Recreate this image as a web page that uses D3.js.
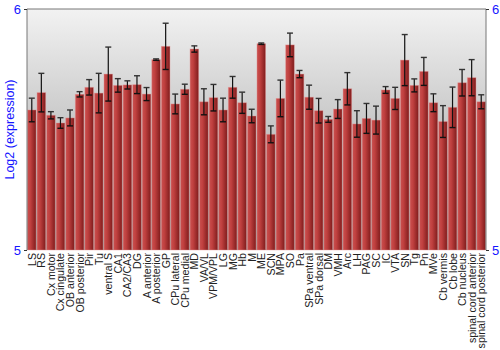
<!DOCTYPE html>
<html>
<head>
<meta charset="utf-8">
<script src="https://cdn.jsdelivr.net/npm/d3@7"></script>
<style>
  body { margin: 0; background: #fff; }
  text { font-family: "Liberation Sans", Arial, sans-serif; }
</style>
</head>
<body>
<svg id="chart"></svg>
<script>
const regions = ["LS", "RS", "Cx motor", "Cx cingulate", "OB anterior", "OB posterior", "Pir", "Tu",
  "ventral S", "CA1", "CA2/CA3", "DG", "A anterior", "A posterior", "GP", "CPu lateral", "CPu medial",
  "MD", "VA/VL", "VPM/VPL", "LG", "MG", "Hb", "M", "ME", "SCN", "MPA", "SO", "Pa", "SPa ventral",
  "SPa dorsal", "DM", "VMH", "Arc", "LH", "PAG", "SC", "IC", "VTA", "SN", "Tg", "Pn", "MVe",
  "Cb vermis", "Cb lobe", "Cb nucleus", "spinal cord anterior", "spinal cord posterior"];
const expression = [5.581, 5.653, 5.559, 5.527, 5.548, 5.646, 5.675, 5.651,
  5.730, 5.683, 5.685, 5.686, 5.647, 5.790, 5.845, 5.606, 5.667,
  5.834, 5.615, 5.632, 5.581, 5.675, 5.611, 5.556, 5.856, 5.480, 5.629, 5.851, 5.730, 5.634,
  5.578, 5.542, 5.585, 5.669, 5.523, 5.546, 5.539, 5.664, 5.629, 5.788, 5.683, 5.741, 5.611,
  5.533, 5.592, 5.694, 5.715, 5.615];
const stdErr = [0.049, 0.080, 0.015, 0.022, 0.033, 0.011, 0.032, 0.082,
  0.112, 0.028, 0.017, 0.037, 0.027, 0.003, 0.096, 0.041, 0.021,
  0.013, 0.054, 0.055, 0.049, 0.045, 0.044, 0.028, 0.003, 0.035, 0.076, 0.049, 0.015, 0.050,
  0.051, 0.012, 0.039, 0.067, 0.055, 0.062, 0.058, 0.014, 0.046, 0.106, 0.027, 0.058, 0.037,
  0.066, 0.084, 0.055, 0.075, 0.029];
const yTicks = [5, 6];
const yTitle = "Log2 (expression)";

const W = 500, H = 350;
const margin = { top: 9, right: 14, bottom: 100, left: 27 };
const width = W - margin.left - margin.right;
const height = H - margin.top - margin.bottom;

const svg = d3.select("#chart").attr("width", W).attr("height", H);
const defs = svg.append("defs");

const bg = defs.append("linearGradient").attr("id", "bg")
  .attr("x1", 0).attr("y1", 0).attr("x2", 0).attr("y2", 1);
bg.append("stop").attr("offset", "0%").attr("stop-color", "#f2f2f2");
bg.append("stop").attr("offset", "100%").attr("stop-color", "#9a9a9a");

const barGrad = defs.append("linearGradient").attr("id", "barGrad")
  .attr("x1", 0).attr("y1", 0).attr("x2", 1).attr("y2", 0);
barGrad.append("stop").attr("offset", "0%").attr("stop-color", "#c9504f");
barGrad.append("stop").attr("offset", "35%").attr("stop-color", "#c0403f");
barGrad.append("stop").attr("offset", "100%").attr("stop-color", "#7f1c1c");

const g = svg.append("g").attr("transform", `translate(${margin.left},${margin.top})`);

const x = d3.scaleBand().domain(regions).range([0, width]).paddingInner(0.1).paddingOuter(0.05);
const y = d3.scaleLinear().domain([5, 6]).range([height, 0]);

g.append("rect").attr("width", width).attr("height", height).attr("fill", "url(#bg)");

const data = regions.map((r, i) => ({ region: r, v: expression[i], e: stdErr[i] }));

g.selectAll(".bar").data(data).enter().append("rect")
  .attr("class", "bar")
  .attr("x", d => x(d.region))
  .attr("y", d => y(d.v))
  .attr("width", x.bandwidth())
  .attr("height", d => height - y(d.v))
  .attr("fill", "url(#barGrad)")
  .attr("stroke", "rgba(230,150,150,0.5)")
  .attr("stroke-width", 0.8);

const eb = g.selectAll(".err").data(data).enter().append("g").attr("class", "err")
  .attr("transform", d => `translate(${x(d.region) + x.bandwidth() / 2},0)`);
eb.append("line")
  .attr("y1", d => y(d.v + d.e)).attr("y2", d => y(d.v - d.e))
  .attr("stroke", "#111").attr("stroke-width", 1.2);
eb.append("line")
  .attr("x1", -3).attr("x2", 3)
  .attr("y1", d => y(d.v + d.e)).attr("y2", d => y(d.v + d.e))
  .attr("stroke", "#333").attr("stroke-width", 1.4);
eb.append("line")
  .attr("x1", -3).attr("x2", 3)
  .attr("y1", d => y(d.v - d.e)).attr("y2", d => y(d.v - d.e))
  .attr("stroke", "#111").attr("stroke-width", 1.4);

// frame
g.append("line").attr("x1", 0).attr("x2", width).attr("y1", 0).attr("y2", 0).attr("stroke", "#777");
g.append("line").attr("x1", 0).attr("x2", 0).attr("y1", 0).attr("y2", height).attr("stroke", "#777");
g.append("line").attr("x1", width).attr("x2", width).attr("y1", 0).attr("y2", height).attr("stroke", "#777");

const styleAxis = sel => {
  sel.select(".domain").remove();
  sel.selectAll(".tick line").attr("stroke", "#333");
  sel.selectAll(".tick text").attr("fill", "#1515ff").style("font-size", "13px")
    .style("font-family", "'Liberation Sans', Arial, sans-serif");
};
g.append("g").call(d3.axisLeft(y).tickValues(yTicks).tickFormat(d3.format("d")).tickSize(3).tickPadding(3)).call(styleAxis);
g.append("g").attr("transform", `translate(${width},0)`)
  .call(d3.axisRight(y).tickValues(yTicks).tickFormat(d3.format("d")).tickSize(3).tickPadding(3)).call(styleAxis);

// x labels
g.append("g").selectAll("text").data(regions).enter().append("text")
  .attr("transform", d => `translate(${x(d) + x.bandwidth() / 2 + 4},${height + 3}) rotate(-90)`)
  .attr("text-anchor", "end")
  .attr("fill", "#222")
  .style("font-size", "10.6px")
  .text(d => d);

svg.append("text")
  .attr("transform", `translate(14,${margin.top + height / 2}) rotate(-90)`)
  .attr("text-anchor", "middle")
  .attr("fill", "#1515ff")
  .style("font-size", "12.5px")
  .text(yTitle);
</script>
</body>
</html>
